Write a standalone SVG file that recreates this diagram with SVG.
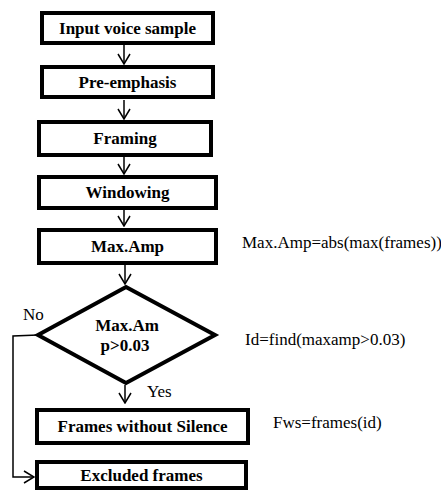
<svg xmlns="http://www.w3.org/2000/svg" width="441" height="496" viewBox="0 0 441 496">
<defs>
<marker id="ah" viewBox="0 0 12 14" refX="11" refY="7" markerWidth="12" markerHeight="14" markerUnits="userSpaceOnUse" orient="auto">
<path d="M1,1 L11,7 L1,13" fill="none" stroke="#000" stroke-width="1.5"/>
</marker>
</defs>
<rect width="441" height="496" fill="#fff"/>
<g id="connectors" fill="none" stroke="#000" stroke-width="1.5">
<line x1="124" y1="45" x2="124" y2="64" marker-end="url(#ah)"/>
<line x1="124" y1="100" x2="124" y2="119" marker-end="url(#ah)"/>
<line x1="124" y1="157" x2="124" y2="174" marker-end="url(#ah)"/>
<line x1="124" y1="210" x2="124" y2="226" marker-end="url(#ah)"/>
<line x1="125" y1="265" x2="125" y2="284" marker-end="url(#ah)"/>
<line x1="125" y1="385" x2="125" y2="403" marker-end="url(#ah)"/>
<polyline points="38,335 13,336 13,477 34,477" marker-end="url(#ah)"/>
</g>
<g id="nodes" fill="#fff" stroke="#000" stroke-width="4">
<g id="n1"><rect x="42" y="13" width="171" height="30"/><text x="127.5" y="34" font-family="Liberation Serif" font-weight="bold" font-size="17" text-anchor="middle" fill="#000" stroke="none">Input voice sample</text></g>
<g id="n2"><rect x="42" y="67" width="171" height="30"/><text x="127.5" y="88" font-family="Liberation Serif" font-weight="bold" font-size="17" text-anchor="middle" fill="#000" stroke="none">Pre-emphasis</text></g>
<g id="n3"><rect x="39" y="122" width="172" height="33"/><text x="125" y="144" font-family="Liberation Serif" font-weight="bold" font-size="17" text-anchor="middle" fill="#000" stroke="none">Framing</text></g>
<g id="n4"><rect x="39" y="177" width="177" height="31"/><text x="127.5" y="198" font-family="Liberation Serif" font-weight="bold" font-size="17" text-anchor="middle" fill="#000" stroke="none">Windowing</text></g>
<g id="n5"><rect x="39" y="230" width="177" height="33"/><text x="127.5" y="252" font-family="Liberation Serif" font-weight="bold" font-size="17" text-anchor="middle" fill="#000" stroke="none">Max.Amp</text></g>
<g id="n6"><polygon points="126,287 215,335 126,383 38,335"/><text x="127" y="331" font-family="Liberation Serif" font-weight="bold" font-size="17" text-anchor="middle" fill="#000" stroke="none">Max.Am</text><text x="125" y="351" font-family="Liberation Serif" font-weight="bold" font-size="17" text-anchor="middle" fill="#000" stroke="none">p&gt;0.03</text></g>
<g id="n7"><rect x="37" y="410" width="211" height="33"/><text x="142.5" y="432" font-family="Liberation Serif" font-weight="bold" font-size="17" text-anchor="middle" fill="#000" stroke="none">Frames without Silence</text></g>
<g id="n8"><rect x="37" y="462" width="209" height="26"/><text x="141.5" y="481" font-family="Liberation Serif" font-weight="bold" font-size="17" text-anchor="middle" fill="#000" stroke="none">Excluded frames</text></g>
</g>
<g id="labels" font-family="Liberation Serif" font-size="17" fill="#000">
<text x="23" y="320" font-family="Liberation Serif">No</text>
<text x="147" y="397" font-family="Liberation Serif">Yes</text>
<text x="242" y="248" font-family="Liberation Serif">Max.Amp=abs(max(frames))</text>
<text x="245" y="345" font-family="Liberation Serif">Id=find(maxamp&gt;0.03)</text>
<text x="273" y="428" font-family="Liberation Serif">Fws=frames(id)</text>
</g>
</svg>
